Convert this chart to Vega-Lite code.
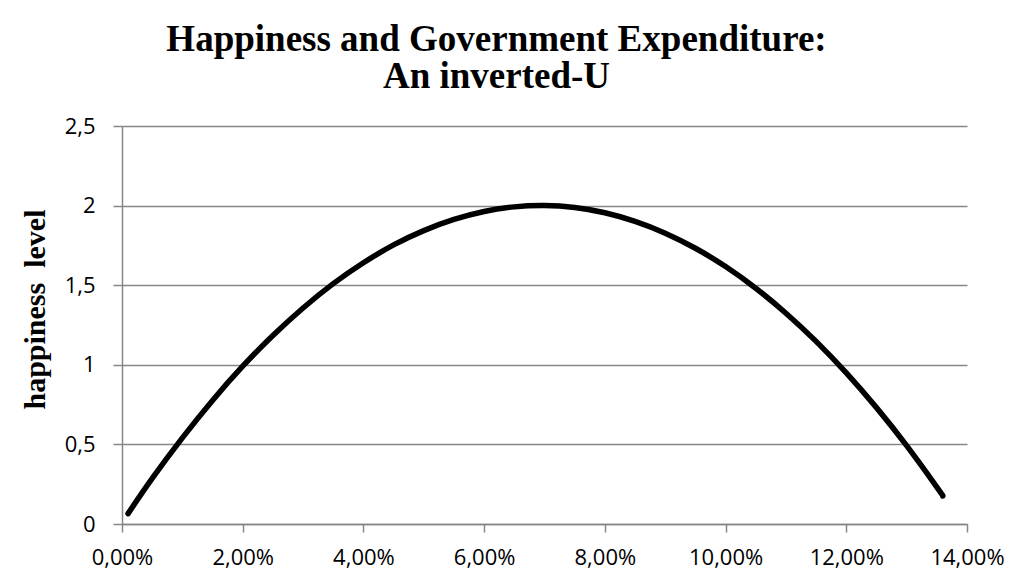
{
  "$schema": "https://vega.github.io/schema/vega-lite/v6.json",
  "width": 845,
  "height": 398,
  "autosize": {"type": "none"},
  "padding": {"left": 122, "top": 126, "right": 56, "bottom": 58},
  "background": "white",
  "title": {
    "text": ["Happiness and Government Expenditure:", "An inverted-U"],
    "font": "Liberation Serif",
    "fontSize": 37,
    "fontWeight": "bold",
    "color": "black",
    "lineHeight": 37,
    "anchor": "middle",
    "dx": -48,
    "offset": 19
  },
  "data": {
    "values": [
      {"expenditure": 0.001, "happiness": 0.065},
      {"expenditure": 0.005, "happiness": 0.286},
      {"expenditure": 0.010, "happiness": 0.541},
      {"expenditure": 0.015, "happiness": 0.776},
      {"expenditure": 0.020, "happiness": 0.991},
      {"expenditure": 0.025, "happiness": 1.184},
      {"expenditure": 0.030, "happiness": 1.357},
      {"expenditure": 0.035, "happiness": 1.510},
      {"expenditure": 0.040, "happiness": 1.641},
      {"expenditure": 0.045, "happiness": 1.753},
      {"expenditure": 0.050, "happiness": 1.843},
      {"expenditure": 0.055, "happiness": 1.913},
      {"expenditure": 0.060, "happiness": 1.963},
      {"expenditure": 0.065, "happiness": 1.992},
      {"expenditure": 0.070, "happiness": 2.000},
      {"expenditure": 0.075, "happiness": 1.988},
      {"expenditure": 0.080, "happiness": 1.955},
      {"expenditure": 0.085, "happiness": 1.901},
      {"expenditure": 0.090, "happiness": 1.827},
      {"expenditure": 0.095, "happiness": 1.732},
      {"expenditure": 0.100, "happiness": 1.617},
      {"expenditure": 0.105, "happiness": 1.481},
      {"expenditure": 0.110, "happiness": 1.324},
      {"expenditure": 0.115, "happiness": 1.147},
      {"expenditure": 0.120, "happiness": 0.949},
      {"expenditure": 0.125, "happiness": 0.731},
      {"expenditure": 0.130, "happiness": 0.492},
      {"expenditure": 0.135, "happiness": 0.232},
      {"expenditure": 0.136, "happiness": 0.176}
    ]
  },
  "mark": {
    "type": "line",
    "color": "black",
    "strokeWidth": 5.5,
    "strokeCap": "round",
    "strokeJoin": "round",
    "interpolate": "natural",
    "clip": false
  },
  "encoding": {
    "x": {
      "field": "expenditure",
      "type": "quantitative",
      "scale": {"domain": [0, 0.14], "nice": false, "zero": false},
      "axis": {
        "values": [0, 0.02, 0.04, 0.06, 0.08, 0.1, 0.12, 0.14],
        "labelExpr": "replace(format(datum.value, '.2%'), '.', ',')",
        "title": null,
        "grid": false,
        "domainColor": "#868686",
        "domainWidth": 1.5,
        "tickColor": "#868686",
        "tickWidth": 1.5,
        "tickSize": 8,
        "labelFont": "Open Sans",
        "labelFontSize": 22,
        "labelColor": "black",
        "labelPadding": 15,
        "labelFlush": false,
        "labelOverlap": false
      }
    },
    "y": {
      "field": "happiness",
      "type": "quantitative",
      "scale": {"domain": [0, 2.5], "nice": false},
      "axis": {
        "values": [0, 0.5, 1, 1.5, 2, 2.5],
        "labelExpr": "replace(toString(datum.value), '.', ',')",
        "title": "happiness\u00a0\u00a0level",
        "titleFont": "Liberation Serif",
        "titleFontSize": 30,
        "titleFontWeight": "bold",
        "titleColor": "black",
        "titlePadding": 14,
        "titleY": 183,
        "grid": true,
        "gridColor": "#868686",
        "gridWidth": 1.5,
        "domainColor": "#868686",
        "domainWidth": 1.5,
        "tickColor": "#868686",
        "tickWidth": 1.5,
        "tickSize": 9,
        "labelFont": "Open Sans",
        "labelFontSize": 22,
        "labelColor": "black",
        "labelPadding": 18,
        "labelOverlap": false
      }
    }
  },
  "config": {
    "view": {"stroke": null}
  }
}
